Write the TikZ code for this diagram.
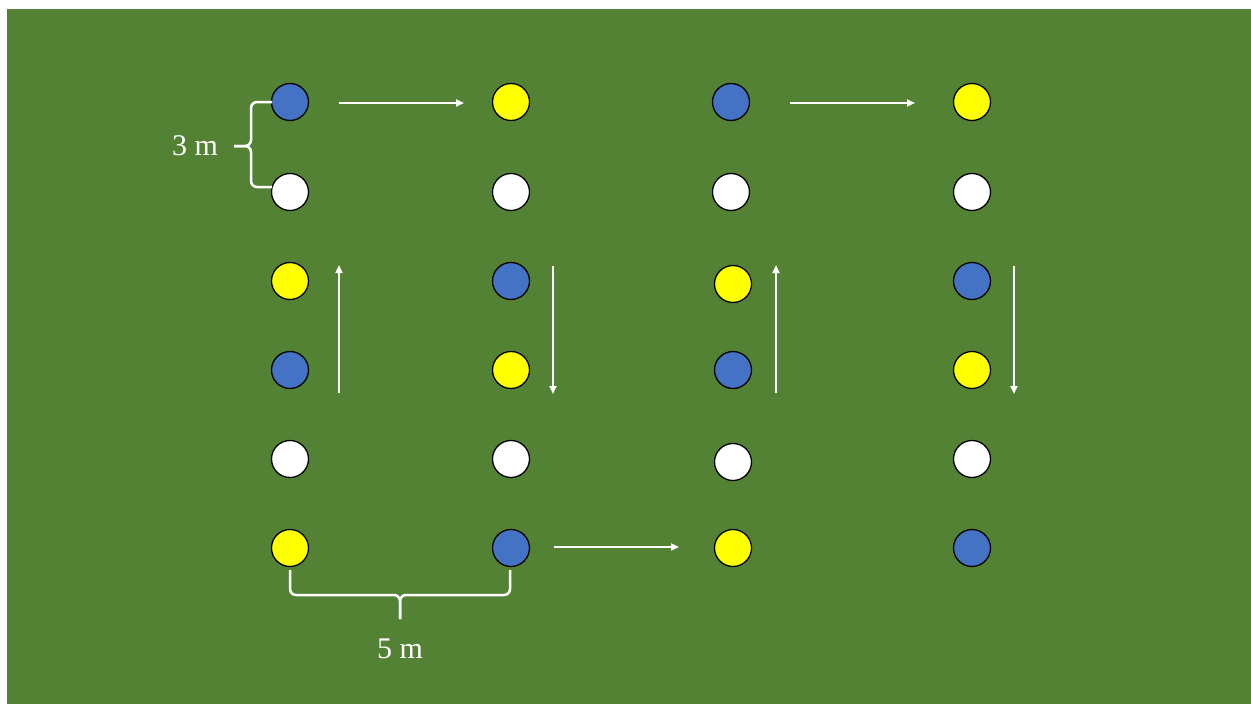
\documentclass[tikz,border=0pt]{standalone}
\usepackage{fontspec}
\setmainfont{Liberation Serif}
\usetikzlibrary{arrows.meta}
\definecolor{field}{RGB}{84,130,53}
\definecolor{cblue}{RGB}{68,114,196}
\definecolor{cyellow}{RGB}{255,255,0}
\tikzset{
  cone/.style={circle, draw=black, line width=1.3pt, minimum size=37pt, inner sep=0pt},
  bc/.style={cone, fill=cblue},
  yc/.style={cone, fill=cyellow},
  wc/.style={cone, fill=white},
  run/.style={draw=white, line width=2pt, -{Triangle[length=8pt,width=7pt]}},
  bracepath/.style={draw=white, line width=2.5pt, rounded corners=6pt},
  lbl/.style={text=white, font=\fontsize{30}{36}\selectfont, inner sep=0pt}
}
\begin{document}
\begin{tikzpicture}[x=1pt,y=-1pt]
\useasboundingbox (0,0) rectangle (1251,704);
\fill[white] (0,0) rectangle (1251,704);
\fill[field] (7,9) rectangle (1251,704);
% column 1
\node[bc] (a1) at (290,102) {};
\node[wc] (a2) at (290,192) {};
\node[yc] (a3) at (290,281) {};
\node[bc] (a4) at (290,370) {};
\node[wc] (a5) at (290,459) {};
\node[yc] (a6) at (290,548) {};
% column 2
\node[yc] (b1) at (511,102) {};
\node[wc] (b2) at (511,192) {};
\node[bc] (b3) at (511,281) {};
\node[yc] (b4) at (511,370) {};
\node[wc] (b5) at (511,459) {};
\node[bc] (b6) at (511,548) {};
% column 3
\node[bc] (c1) at (731,102) {};
\node[wc] (c2) at (731,192) {};
\node[yc] (c3) at (733,284) {};
\node[bc] (c4) at (733,370) {};
\node[wc] (c5) at (733,462) {};
\node[yc] (c6) at (733,548) {};
% column 4
\node[yc] (d1) at (972,102) {};
\node[wc] (d2) at (972,192) {};
\node[bc] (d3) at (972,281) {};
\node[yc] (d4) at (972,370) {};
\node[wc] (d5) at (972,459) {};
\node[bc] (d6) at (972,548) {};
% arrows
\coordinate (h1s) at (339,103); \coordinate (h1e) at (464,103);
\coordinate (h2s) at (790,103); \coordinate (h2e) at (915,103);
\coordinate (h3s) at (554,547); \coordinate (h3e) at (679,547);
\coordinate (v1s) at (339,393); \coordinate (v1e) at (339,265);
\coordinate (v2s) at (553,266); \coordinate (v2e) at (553,394);
\coordinate (v3s) at (776,393); \coordinate (v3e) at (776,265);
\coordinate (v4s) at (1014,266); \coordinate (v4e) at (1014,394);
\draw[run] (h1s) -- (h1e);
\draw[run] (h2s) -- (h2e);
\draw[run] (h3s) -- (h3e);
\draw[run] (v1s) -- (v1e);
\draw[run] (v2s) -- (v2e);
\draw[run] (v3s) -- (v3e);
\draw[run] (v4s) -- (v4e);
% 3 m brace
\draw[bracepath] (272,102) -- (251,102) -- (251,146) -- (234,146);
\draw[bracepath] (234,146) -- (251,146) -- (251,187) -- (272,187);
\node[lbl] (t3) at (195,146) {3 m};
% 5 m brace
\draw[bracepath] (290,570) -- (290,595) -- (400,595) -- (400,619);
\draw[bracepath] (400,619) -- (400,595) -- (510,595) -- (510,570);
\node[lbl] (t5) at (400,649) {5 m};
\end{tikzpicture}
\end{document}
